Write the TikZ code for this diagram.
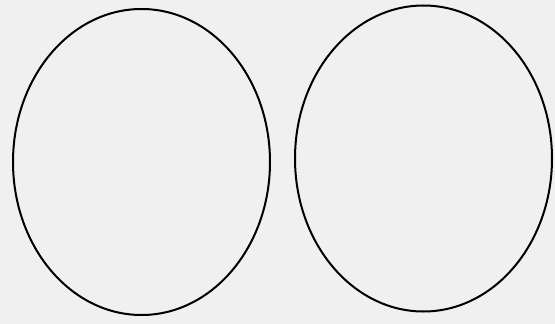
\documentclass[tikz,border=0pt]{standalone}
\usepackage{tikz}
\usetikzlibrary{shapes.geometric}
\definecolor{paper}{RGB}{240,240,240}
\begin{document}
\begin{tikzpicture}[
  x=1pt, y=-1pt,
  oval/.style={ellipse, draw, line width=2pt, inner sep=0pt, minimum width=257pt, minimum height=306pt}
]
% Background sheet
\fill[paper] (0,0) rectangle (555,324);
\useasboundingbox (0,0) rectangle (555,324);
% Left and right ovals
\node[oval] (left) at (141.5,162) {};
\node[oval] (right) at (423.5,158.5) {};
\end{tikzpicture}
\end{document}
